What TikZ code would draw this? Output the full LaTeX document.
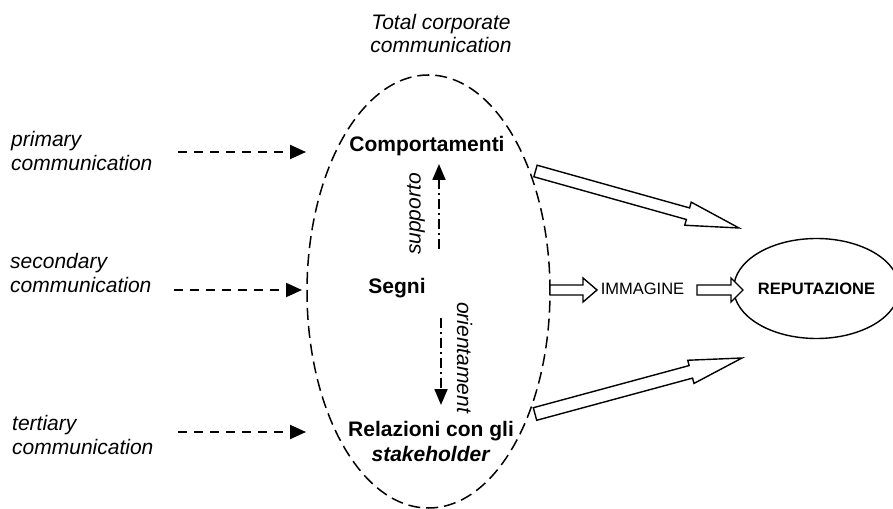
\documentclass[tikz,border=0pt]{standalone}
\usepackage{fontspec}
\setmainfont{Liberation Sans}
\usetikzlibrary{arrows.meta,calc,shapes.geometric}
\newcommand\blockarr[5]{%
  \coordinate (bh) at ($(#2)!#5!(#1)$);
  \draw[blockline] ($(#1)!#3!90:(#2)$) -- ($(bh)!#3!90:(#2)$)
    -- ($(bh)!#4!90:(#2)$) -- (#2) -- ($(bh)!#4!-90:(#2)$)
    -- ($(bh)!#3!-90:(#2)$) -- ($(#1)!#3!-90:(#2)$) -- cycle;}
\begin{document}
\begin{tikzpicture}[x=1bp,y=-1bp,
  big/.style={font=\fontsize{21bp}{24bp}\selectfont, inner sep=0pt},
  small/.style={font=\fontsize{16.5bp}{19bp}\selectfont, inner sep=0pt},
  leftlab/.style={big, font=\fontsize{21bp}{24bp}\selectfont\itshape, align=left, anchor=north west},
  inarrow/.style={line width=2bp, dash pattern=on 9bp off 7bp, -{Triangle[length=16bp,width=14bp]}},
  dotarrow/.style={line width=1.8bp, dash pattern=on 10bp off 4bp on 2bp off 4bp, -{Triangle[length=16bp,width=13bp]}},
  blockline/.style={line width=1.4bp, line join=miter, fill=white}]
\useasboundingbox (0,0) rectangle (893,509);

% big dashed ellipse
\node[draw, ellipse, line width=1.5bp, dash pattern=on 12bp off 6bp, inner sep=0pt,
      minimum width=243bp, minimum height=433bp] (tcc) at (428.5,291.5) {};
\node[big, font=\fontsize{21bp}{23bp}\selectfont\itshape, align=center, anchor=north] (tcclab) at (441,14) {Total corporate\\communication};

% inner labels
\node[big, font=\fontsize{21bp}{24bp}\selectfont\bfseries, anchor=base] (comp) at (427,152) {Comportamenti};
\node[big, font=\fontsize{21bp}{24bp}\selectfont\bfseries, anchor=base] (segni) at (397,294) {Segni};
\node[big, font=\fontsize{21bp}{24.3bp}\selectfont\bfseries, align=center, anchor=north] (rel) at (431,421.5) {Relazioni con gli\\\textit{stakeholder}};
\node[big, font=\fontsize{21bp}{24bp}\selectfont\itshape, rotate=90] (sup) at (416,214) {supporto};
\node[big, font=\fontsize{21bp}{24bp}\selectfont\itshape, rotate=-90] (ori) at (464.5,357.5) {orientament};

% dash-dot arrows
\coordinate (s1) at (439,249);
\coordinate (s2) at (439,164);
\coordinate (o1) at (441,318);
\coordinate (o2) at (441,405);
\draw[dotarrow] (s1) -- (s2);
\draw[dotarrow] (o1) -- (o2);

% left labels and arrows
\node[leftlab] (prim) at (11,131.5) {primary\\communication};
\node[leftlab] (sec) at (10,253) {secondary\\communication};
\node[leftlab] (ter) at (12,415) {tertiary\\communication};
\coordinate (p1) at (178,152);
\coordinate (p2) at (306,152);
\coordinate (q1) at (174,290);
\coordinate (q2) at (302,290);
\coordinate (r1) at (178,432);
\coordinate (r2) at (306,432);
\draw[inarrow] (p1) -- (p2);
\draw[inarrow] (q1) -- (q2);
\draw[inarrow] (r1) -- (r2);

% reputation
\node[draw, ellipse, line width=1.4bp, inner sep=0pt, minimum width=150bp, minimum height=100bp,
      small, font=\fontsize{16.5bp}{19bp}\selectfont\bfseries] (rep) at (816.5,288.5) {REPUTAZIONE};
\node[small] (img) at (642.5,289) {IMMAGINE};

% block arrows
\coordinate (a1) at (535.5,171);
\coordinate (t1) at (739,228);
\coordinate (a2) at (535,414);
\coordinate (t2) at (742,358);
\coordinate (m1) at (550,290);
\coordinate (m2) at (597,290);
\coordinate (n1) at (697,290);
\coordinate (n2) at (743,290);
\blockarr{a1}{t1}{6bp}{12bp}{53bp}
\blockarr{a2}{t2}{6.5bp}{12bp}{53bp}
\blockarr{m1}{m2}{5bp}{12bp}{14bp}
\blockarr{n1}{n2}{5bp}{12bp}{12bp}
\end{tikzpicture}
\end{document}
